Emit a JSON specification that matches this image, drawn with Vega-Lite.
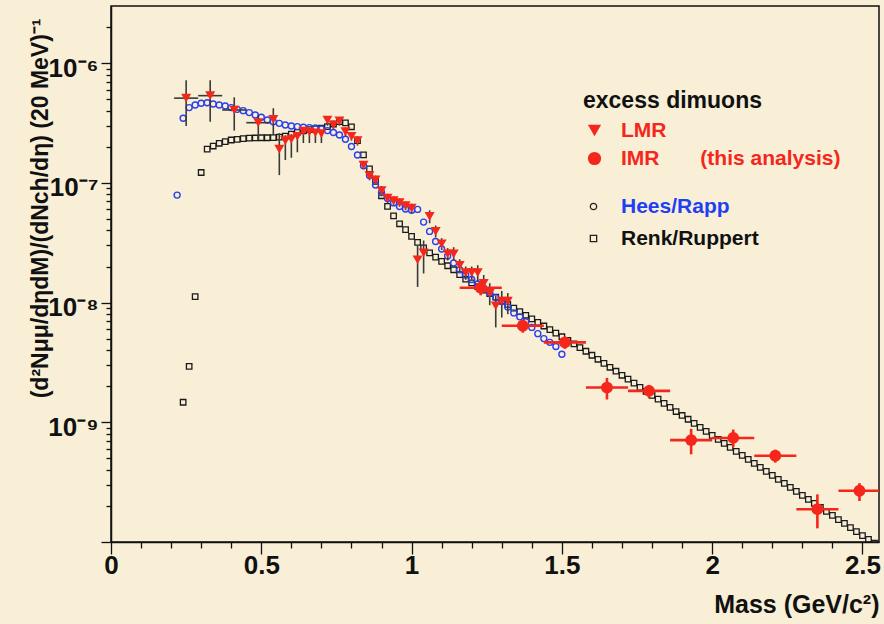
{
  "$schema": "https://vega.github.io/schema/vega-lite/v6.json",
  "width": 768,
  "height": 536,
  "autosize": {"type": "none"},
  "padding": {"left": 111, "top": 6, "right": 5, "bottom": 82},
  "background": "#f8efd6",
  "config": {
    "view": {"stroke": "#111111", "strokeWidth": 1.5, "fill": "#f8efd6"},
    "font": "Liberation Sans"
  },
  "datasets": {
    "lmr": [
      {"m": 0.25, "v": 5.1e-7, "lo": 2.98e-7, "hi": 7.2e-7, "mlo": 0.21, "mhi": 0.29, "series": "LMR"},
      {"m": 0.33, "v": 5.35e-7, "lo": 3.24e-7, "hi": 7.2e-7, "mlo": 0.29, "mhi": 0.37, "series": "LMR"},
      {"m": 0.41, "v": 4.06e-7, "lo": 2.73e-7, "hi": 5.18e-7, "mlo": 0.37, "mhi": 0.45, "series": "LMR"},
      {"m": 0.49, "v": 3.18e-7, "lo": 2.28e-7, "hi": 3.68e-7, "mlo": 0.45, "mhi": 0.53, "series": "LMR"},
      {"m": 0.54, "v": 3.4e-7, "lo": 2.5e-7, "hi": 4.2e-7, "series": "LMR"},
      {"m": 0.56, "v": 1.91e-7, "lo": 1.16e-7, "hi": 2.6e-7, "series": "LMR"},
      {"m": 0.58, "v": 2.25e-7, "lo": 1.55e-7, "hi": 2.5e-7, "series": "LMR"},
      {"m": 0.60, "v": 2.32e-7, "lo": 1.62e-7, "hi": 2.55e-7, "series": "LMR"},
      {"m": 0.62, "v": 2.45e-7, "lo": 1.8e-7, "hi": 2.6e-7, "series": "LMR"},
      {"m": 0.64, "v": 2.7e-7, "lo": 2.15e-7, "hi": 2.9e-7, "series": "LMR"},
      {"m": 0.66, "v": 2.66e-7, "lo": 2.15e-7, "hi": 2.85e-7, "series": "LMR"},
      {"m": 0.68, "v": 2.62e-7, "lo": 2.15e-7, "hi": 2.8e-7, "series": "LMR"},
      {"m": 0.70, "v": 2.58e-7, "lo": 2.15e-7, "hi": 2.75e-7, "series": "LMR"},
      {"m": 0.72, "v": 3.35e-7, "lo": 3.0e-7, "hi": 3.6e-7, "series": "LMR"},
      {"m": 0.74, "v": 3.05e-7, "lo": 2.8e-7, "hi": 3.3e-7, "series": "LMR"},
      {"m": 0.76, "v": 3.3e-7, "lo": 3.0e-7, "hi": 3.5e-7, "series": "LMR"},
      {"m": 0.78, "v": 2.68e-7, "lo": 2.45e-7, "hi": 2.9e-7, "series": "LMR"},
      {"m": 0.80, "v": 2.45e-7, "lo": 2.25e-7, "hi": 2.65e-7, "series": "LMR"},
      {"m": 0.82, "v": 2.25e-7, "lo": 2.05e-7, "hi": 2.45e-7, "series": "LMR"},
      {"m": 0.84, "v": 1.41e-7, "lo": 1.3e-7, "hi": 1.52e-7, "series": "LMR"},
      {"m": 0.86, "v": 1.15e-7, "lo": 1.05e-7, "hi": 1.25e-7, "series": "LMR"},
      {"m": 0.88, "v": 1.06e-7, "lo": 9.7e-8, "hi": 1.15e-7, "series": "LMR"},
      {"m": 0.90, "v": 8.6e-8, "lo": 7.8e-8, "hi": 9.4e-8, "series": "LMR"},
      {"m": 0.92, "v": 7.45e-8, "lo": 6.8e-8, "hi": 8.1e-8, "series": "LMR"},
      {"m": 0.94, "v": 7.1e-8, "lo": 6.5e-8, "hi": 7.7e-8, "series": "LMR"},
      {"m": 0.96, "v": 6.85e-8, "lo": 6.3e-8, "hi": 7.4e-8, "series": "LMR"},
      {"m": 0.98, "v": 6.45e-8, "lo": 5.9e-8, "hi": 7.0e-8, "series": "LMR"},
      {"m": 1.00, "v": 6.15e-8, "lo": 5.6e-8, "hi": 6.7e-8, "series": "LMR"},
      {"m": 1.02, "v": 2.28e-8, "lo": 1.35e-8, "hi": 3.0e-8, "series": "LMR"},
      {"m": 1.04, "v": 2.6e-8, "lo": 1.75e-8, "hi": 3.3e-8, "series": "LMR"},
      {"m": 1.06, "v": 5.25e-8, "lo": 4.6e-8, "hi": 5.9e-8, "series": "LMR"},
      {"m": 1.08, "v": 3.93e-8, "lo": 3.5e-8, "hi": 4.4e-8, "series": "LMR"},
      {"m": 1.10, "v": 3.1e-8, "lo": 2.75e-8, "hi": 3.45e-8, "series": "LMR"},
      {"m": 1.12, "v": 2.55e-8, "lo": 2.25e-8, "hi": 2.85e-8, "series": "LMR"},
      {"m": 1.14, "v": 2.55e-8, "lo": 2.25e-8, "hi": 2.9e-8, "series": "LMR"},
      {"m": 1.16, "v": 2.05e-8, "lo": 1.8e-8, "hi": 2.3e-8, "series": "LMR"},
      {"m": 1.18, "v": 1.78e-8, "lo": 1.55e-8, "hi": 2.0e-8, "series": "LMR"},
      {"m": 1.20, "v": 1.78e-8, "lo": 1.55e-8, "hi": 2.0e-8, "series": "LMR"},
      {"m": 1.22, "v": 1.78e-8, "lo": 1.5e-8, "hi": 2.05e-8, "series": "LMR"},
      {"m": 1.24, "v": 1.45e-8, "lo": 1.2e-8, "hi": 1.7e-8, "series": "LMR"},
      {"m": 1.26, "v": 1.2e-8, "lo": 9.5e-9, "hi": 1.45e-8, "series": "LMR"},
      {"m": 1.28, "v": 9.4e-9, "lo": 6.2e-9, "hi": 1.15e-8, "series": "LMR"},
      {"m": 1.30, "v": 1.03e-8, "lo": 7.5e-9, "hi": 1.25e-8, "series": "LMR"},
      {"m": 1.32, "v": 1.03e-8, "lo": 8.0e-9, "hi": 1.2e-8, "series": "LMR"}
    ],
    "imr": [
      {"m": 1.23, "v": 1.33e-8, "lo": 1.15e-8, "hi": 1.5e-8, "mlo": 1.16, "mhi": 1.30, "series": "IMR"},
      {"m": 1.37, "v": 6.4e-9, "lo": 5.6e-9, "hi": 7.2e-9, "mlo": 1.30, "mhi": 1.44, "series": "IMR"},
      {"m": 1.51, "v": 4.65e-9, "lo": 4.1e-9, "hi": 5.2e-9, "mlo": 1.44, "mhi": 1.58, "series": "IMR"},
      {"m": 1.65, "v": 1.95e-9, "lo": 1.55e-9, "hi": 2.35e-9, "mlo": 1.58, "mhi": 1.72, "series": "IMR"},
      {"m": 1.79, "v": 1.83e-9, "lo": 1.6e-9, "hi": 2.05e-9, "mlo": 1.72, "mhi": 1.86, "series": "IMR"},
      {"m": 1.93, "v": 7.1e-10, "lo": 5.4e-10, "hi": 8.8e-10, "mlo": 1.86, "mhi": 2.00, "series": "IMR"},
      {"m": 2.07, "v": 7.4e-10, "lo": 6.2e-10, "hi": 8.7e-10, "mlo": 2.00, "mhi": 2.14, "series": "IMR"},
      {"m": 2.21, "v": 5.25e-10, "lo": 4.6e-10, "hi": 5.9e-10, "mlo": 2.14, "mhi": 2.28, "series": "IMR"},
      {"m": 2.35, "v": 1.88e-10, "lo": 1.3e-10, "hi": 2.5e-10, "mlo": 2.28, "mhi": 2.42, "series": "IMR"},
      {"m": 2.49, "v": 2.68e-10, "lo": 2.2e-10, "hi": 3.1e-10, "mlo": 2.42, "mhi": 2.56, "series": "IMR"}
    ],
    "hees": [
      {"m": 0.22, "v": 7.9e-8}, {"m": 0.24, "v": 3.46e-7}, {"m": 0.26, "v": 4.25e-7}, {"m": 0.28, "v": 4.47e-7},
      {"m": 0.30, "v": 4.62e-7}, {"m": 0.32, "v": 4.67e-7}, {"m": 0.34, "v": 4.55e-7}, {"m": 0.36, "v": 4.47e-7},
      {"m": 0.38, "v": 4.38e-7}, {"m": 0.40, "v": 4.25e-7}, {"m": 0.42, "v": 4.11e-7}, {"m": 0.44, "v": 4.01e-7},
      {"m": 0.46, "v": 3.86e-7}, {"m": 0.48, "v": 3.69e-7}, {"m": 0.50, "v": 3.53e-7}, {"m": 0.52, "v": 3.35e-7},
      {"m": 0.54, "v": 3.24e-7}, {"m": 0.56, "v": 3.14e-7}, {"m": 0.58, "v": 3.04e-7}, {"m": 0.60, "v": 2.98e-7},
      {"m": 0.62, "v": 2.95e-7}, {"m": 0.64, "v": 2.91e-7}, {"m": 0.66, "v": 2.89e-7}, {"m": 0.68, "v": 2.88e-7},
      {"m": 0.70, "v": 2.82e-7}, {"m": 0.72, "v": 2.73e-7}, {"m": 0.74, "v": 2.63e-7}, {"m": 0.76, "v": 2.51e-7},
      {"m": 0.78, "v": 2.31e-7}, {"m": 0.80, "v": 2.01e-7}, {"m": 0.82, "v": 1.71e-7}, {"m": 0.84, "v": 1.39e-7},
      {"m": 0.86, "v": 1.15e-7}, {"m": 0.88, "v": 9.6e-8}, {"m": 0.90, "v": 8.3e-8}, {"m": 0.92, "v": 7.4e-8},
      {"m": 0.94, "v": 6.8e-8}, {"m": 0.96, "v": 6.35e-8}, {"m": 0.98, "v": 6.05e-8}, {"m": 1.00, "v": 5.9e-8},
      {"m": 1.02, "v": 6.0e-8}, {"m": 1.04, "v": 4.7e-8}, {"m": 1.06, "v": 3.93e-8}, {"m": 1.08, "v": 3.24e-8},
      {"m": 1.10, "v": 2.8e-8}, {"m": 1.12, "v": 2.45e-8}, {"m": 1.14, "v": 2.14e-8}, {"m": 1.16, "v": 1.88e-8},
      {"m": 1.18, "v": 1.7e-8}, {"m": 1.20, "v": 1.56e-8}, {"m": 1.22, "v": 1.43e-8}, {"m": 1.24, "v": 1.32e-8},
      {"m": 1.26, "v": 1.2e-8}, {"m": 1.28, "v": 1.1e-8}, {"m": 1.30, "v": 1.02e-8}, {"m": 1.32, "v": 9.2e-9},
      {"m": 1.34, "v": 8.2e-9}, {"m": 1.36, "v": 7.6e-9}, {"m": 1.38, "v": 6.9e-9}, {"m": 1.40, "v": 6.2e-9},
      {"m": 1.42, "v": 5.5e-9}, {"m": 1.44, "v": 5.0e-9}, {"m": 1.46, "v": 4.65e-9}, {"m": 1.48, "v": 4.3e-9},
      {"m": 1.50, "v": 3.7e-9}
    ],
    "renk": [
      {"m": 0.24, "v": 1.47e-9}, {"m": 0.26, "v": 2.93e-9}, {"m": 0.28, "v": 1.12e-8}, {"m": 0.30, "v": 1.22e-7},
      {"m": 0.32, "v": 1.91e-7}, {"m": 0.34, "v": 2.03e-7}, {"m": 0.36, "v": 2.14e-7}, {"m": 0.38, "v": 2.21e-7},
      {"m": 0.40, "v": 2.28e-7}, {"m": 0.42, "v": 2.31e-7}, {"m": 0.44, "v": 2.34e-7}, {"m": 0.46, "v": 2.36e-7},
      {"m": 0.48, "v": 2.37e-7}, {"m": 0.50, "v": 2.38e-7}, {"m": 0.52, "v": 2.38e-7}, {"m": 0.54, "v": 2.39e-7},
      {"m": 0.56, "v": 2.41e-7}, {"m": 0.58, "v": 2.46e-7}, {"m": 0.60, "v": 2.55e-7}, {"m": 0.62, "v": 2.64e-7},
      {"m": 0.64, "v": 2.72e-7}, {"m": 0.66, "v": 2.78e-7}, {"m": 0.68, "v": 2.82e-7}, {"m": 0.70, "v": 2.86e-7},
      {"m": 0.72, "v": 2.95e-7}, {"m": 0.74, "v": 3.1e-7}, {"m": 0.76, "v": 3.24e-7}, {"m": 0.78, "v": 3.17e-7},
      {"m": 0.80, "v": 2.94e-7}, {"m": 0.82, "v": 2.25e-7}, {"m": 0.84, "v": 1.71e-7}, {"m": 0.86, "v": 1.31e-7},
      {"m": 0.88, "v": 1.03e-7}, {"m": 0.90, "v": 7.8e-8}, {"m": 0.92, "v": 6.35e-8}, {"m": 0.94, "v": 5.3e-8},
      {"m": 0.96, "v": 4.55e-8}, {"m": 0.98, "v": 4.06e-8}, {"m": 1.00, "v": 3.57e-8}, {"m": 1.02, "v": 3.18e-8},
      {"m": 1.04, "v": 2.86e-8}, {"m": 1.06, "v": 2.6e-8}, {"m": 1.08, "v": 2.4e-8}, {"m": 1.10, "v": 2.21e-8},
      {"m": 1.12, "v": 2.03e-8}, {"m": 1.14, "v": 1.88e-8}, {"m": 1.16, "v": 1.71e-8}, {"m": 1.18, "v": 1.57e-8},
      {"m": 1.20, "v": 1.46e-8}, {"m": 1.22, "v": 1.36e-8}, {"m": 1.24, "v": 1.27e-8}, {"m": 1.26, "v": 1.19e-8},
      {"m": 1.28, "v": 1.11e-8}, {"m": 1.30, "v": 1.03e-8}, {"m": 1.32, "v": 9.64e-9}, {"m": 1.34, "v": 9.0e-9},
      {"m": 1.36, "v": 8.4e-9}, {"m": 1.38, "v": 7.83e-9}, {"m": 1.40, "v": 7.31e-9}, {"m": 1.42, "v": 6.82e-9},
      {"m": 1.44, "v": 6.37e-9}, {"m": 1.46, "v": 5.94e-9}, {"m": 1.48, "v": 5.55e-9}, {"m": 1.50, "v": 5.18e-9},
      {"m": 1.52, "v": 4.83e-9}, {"m": 1.54, "v": 4.51e-9}, {"m": 1.56, "v": 4.21e-9}, {"m": 1.58, "v": 3.92e-9},
      {"m": 1.60, "v": 3.63e-9}, {"m": 1.62, "v": 3.36e-9}, {"m": 1.64, "v": 3.11e-9}, {"m": 1.66, "v": 2.88e-9},
      {"m": 1.68, "v": 2.67e-9}, {"m": 1.70, "v": 2.47e-9}, {"m": 1.72, "v": 2.29e-9}, {"m": 1.74, "v": 2.12e-9},
      {"m": 1.76, "v": 1.96e-9}, {"m": 1.78, "v": 1.81e-9}, {"m": 1.80, "v": 1.68e-9}, {"m": 1.82, "v": 1.56e-9},
      {"m": 1.84, "v": 1.44e-9}, {"m": 1.86, "v": 1.33e-9}, {"m": 1.88, "v": 1.23e-9}, {"m": 1.90, "v": 1.14e-9},
      {"m": 1.92, "v": 1.06e-9}, {"m": 1.94, "v": 9.8e-10}, {"m": 1.96, "v": 9.07e-10}, {"m": 1.98, "v": 8.4e-10},
      {"m": 2.00, "v": 7.78e-10}, {"m": 2.02, "v": 7.2e-10}, {"m": 2.04, "v": 6.67e-10}, {"m": 2.06, "v": 6.17e-10},
      {"m": 2.08, "v": 5.71e-10}, {"m": 2.10, "v": 5.29e-10}, {"m": 2.12, "v": 4.9e-10}, {"m": 2.14, "v": 4.54e-10},
      {"m": 2.16, "v": 4.2e-10}, {"m": 2.18, "v": 3.89e-10}, {"m": 2.20, "v": 3.6e-10}, {"m": 2.22, "v": 3.33e-10},
      {"m": 2.24, "v": 3.09e-10}, {"m": 2.26, "v": 2.86e-10}, {"m": 2.28, "v": 2.65e-10}, {"m": 2.30, "v": 2.45e-10},
      {"m": 2.32, "v": 2.27e-10}, {"m": 2.34, "v": 2.1e-10}, {"m": 2.36, "v": 1.95e-10}, {"m": 2.38, "v": 1.8e-10},
      {"m": 2.40, "v": 1.67e-10}, {"m": 2.42, "v": 1.54e-10}, {"m": 2.44, "v": 1.43e-10}, {"m": 2.46, "v": 1.32e-10},
      {"m": 2.48, "v": 1.22e-10}, {"m": 2.50, "v": 1.13e-10}, {"m": 2.52, "v": 1.05e-10}, {"m": 2.54, "v": 9.8e-11}
    ]
  },
  "resolve": {
    "scale": {"shape": "independent"},
    "legend": {"shape": "independent"},
    "axis": {"x": "independent"}
  },
  "layer": [
    {
      "data": {"name": "renk"},
      "transform": [{"calculate": "'Renk/Ruppert'", "as": "model"}],
      "mark": {"type": "point", "filled": false, "stroke": "#1a1a1a", "strokeWidth": 1.3, "size": 30, "opacity": 1, "clip": true},
      "encoding": {
        "x": {
          "field": "m", "type": "quantitative",
          "scale": {"domain": [0, 2.555], "nice": false, "zero": false},
          "axis": {
            "orient": "bottom",
            "values": [0, 0.5, 1, 1.5, 2, 2.5],
            "format": "~g",
            "tickSize": 12,
            "labelFont": "Liberation Sans", "labelFontSize": 26, "labelFontWeight": "bold", "labelColor": "#111111",
            "labelPadding": -2, "labelFlush": false, "labelOverlap": false, "labelBound": false,
            "domainColor": "#111111", "domainWidth": 1.5, "tickColor": "#111111", "tickWidth": 1.3, "grid": false,
            "title": "Mass (GeV/c²)", "titleFont": "Liberation Sans", "titleFontSize": 25, "titleFontWeight": "bold", "titleColor": "#111111",
            "titleAlign": "right", "titleBaseline": "middle", "titleX": 768, "titleY": 62
          }
        },
        "y": {
          "field": "v", "type": "quantitative",
          "scale": {"type": "log", "domain": [1e-10, 3e-6], "nice": false},
          "axis": {
            "values": [1e-10, 2e-10, 3e-10, 4e-10, 5e-10, 6e-10, 7e-10, 8e-10, 9e-10, 1e-9, 2e-9, 3e-9, 4e-9, 5e-9, 6e-9, 7e-9, 8e-9, 9e-9, 1e-8, 2e-8, 3e-8, 4e-8, 5e-8, 6e-8, 7e-8, 8e-8, 9e-8, 1e-7, 2e-7, 3e-7, 4e-7, 5e-7, 6e-7, 7e-7, 8e-7, 9e-7, 1e-6, 2e-6],
            "labelExpr": "datum.value == 1e-6 ? '10⁻⁶' : datum.value == 1e-7 ? '10⁻⁷' : datum.value == 1e-8 ? '10⁻⁸' : datum.value == 1e-9 ? '10⁻⁹' : ''",
            "tickSize": {"condition": {"test": "datum.value == 1e-6 || datum.value == 1e-7 || datum.value == 1e-8 || datum.value == 1e-9 || datum.value == 1e-10", "value": 10}, "value": 5},
            "labelFont": "Liberation Sans", "labelFontSize": 26, "labelFontWeight": "bold", "labelColor": "#111111",
            "labelPadding": 3, "labelOffset": 5, "labelFlush": false, "labelOverlap": false, "labelBound": false,
            "domainColor": "#111111", "domainWidth": 1.5, "tickColor": "#111111", "tickWidth": 1.3, "grid": false,
            "title": "(d²Nμμ/dηdM)/(dNch/dη) (20 MeV)⁻¹", "titleFont": "Liberation Sans", "titleFontSize": 23, "titleFontWeight": "bold", "titleColor": "#111111",
            "titleAngle": 270, "titleAlign": "right", "titleBaseline": "middle", "titleX": -71, "titleY": 12
          }
        },
        "shape": {
          "field": "model", "type": "nominal",
          "scale": {"domain": ["Renk/Ruppert"], "range": ["square"]},
          "legend": {
            "orient": "none", "legendX": 472, "legendY": 222, "title": null, "padding": 0,
            "labelFont": "Liberation Sans", "labelFontSize": 21, "labelFontWeight": "bold", "labelLimit": 400, "labelColor": "#111111",
            "symbolSize": 40, "symbolStrokeWidth": 1.3, "labelOffset": 17,
            "symbolFillColor": "transparent", "symbolStrokeColor": "#222222"
          }
        }
      }
    },
    {
      "data": {"name": "hees"},
      "transform": [{"calculate": "'Hees/Rapp'", "as": "model"}],
      "mark": {"type": "point", "filled": false, "stroke": "#2a3ff0", "strokeWidth": 1.4, "size": 36, "opacity": 1, "clip": true},
      "encoding": {
        "x": {
          "field": "m", "type": "quantitative",
          "axis": {
            "orient": "bottom",
            "values": [0.1, 0.2, 0.3, 0.4, 0.6, 0.7, 0.8, 0.9, 1.1, 1.2, 1.3, 1.4, 1.6, 1.7, 1.8, 1.9, 2.1, 2.2, 2.3, 2.4],
            "labels": false, "title": null, "domain": false, "grid": false,
            "tickSize": 6, "tickColor": "#111111", "tickWidth": 1.3
          }
        },
        "y": {"field": "v", "type": "quantitative"},
        "shape": {
          "field": "model", "type": "nominal",
          "scale": {"domain": ["Hees/Rapp"], "range": ["circle"]},
          "legend": {
            "orient": "none", "legendX": 472, "legendY": 190, "title": null, "padding": 0,
            "labelFont": "Liberation Sans", "labelFontSize": 21, "labelFontWeight": "bold", "labelLimit": 400, "labelColor": "#1f3ff2",
            "symbolSize": 40, "symbolStrokeWidth": 1.3, "labelOffset": 17,
            "symbolFillColor": "transparent", "symbolStrokeColor": "#222222"
          }
        }
      }
    },
    {
      "layer": [
        {
          "data": {"name": "lmr"},
          "mark": {"type": "rule", "color": "#3a3a3a", "strokeWidth": 1.6, "clip": true},
          "encoding": {
            "x": {"field": "m", "type": "quantitative", "axis": null},
            "y": {"field": "lo", "type": "quantitative"},
            "y2": {"field": "hi"}
          }
        },
        {
          "data": {"name": "lmr"},
          "transform": [{"filter": "isValid(datum.mlo)"}],
          "mark": {"type": "rule", "color": "#3a3a3a", "strokeWidth": 1.6, "clip": true},
          "encoding": {
            "x": {"field": "mlo", "type": "quantitative", "axis": null},
            "x2": {"field": "mhi"},
            "y": {"field": "v", "type": "quantitative"}
          }
        },
        {
          "data": {"name": "lmr"},
          "mark": {"type": "point", "filled": true, "color": "#f5261b", "size": 100, "opacity": 1, "clip": true},
          "encoding": {
            "x": {"field": "m", "type": "quantitative", "axis": null},
            "y": {"field": "v", "type": "quantitative"},
            "shape": {
              "field": "series", "type": "nominal",
              "scale": {"domain": ["LMR", "IMR"], "range": ["triangle-down", "circle"]},
              "legend": {
                "orient": "none", "legendX": 472, "legendY": 84, "title": "excess dimuons", "padding": 0,
                "titleFont": "Liberation Sans", "titleFontSize": 23, "titleFontWeight": "bold", "titleColor": "#111111", "titlePadding": 7,
                "labelFont": "Liberation Sans", "labelFontSize": 21, "labelFontWeight": "bold", "labelColor": "#f5261b", "labelLimit": 400,
                "labelExpr": "datum.label == 'IMR' ? 'IMR\u00a0\u00a0\u00a0\u00a0\u00a0\u00a0\u00a0(this analysis)' : datum.label",
                "rowPadding": 6, "labelOffset": 16, "symbolOffset": 1, "symbolSize": 175,
                "symbolFillColor": "#f5261b", "symbolStrokeColor": "#f5261b"
              }
            }
          }
        },
        {
          "data": {"name": "imr"},
          "mark": {"type": "rule", "color": "#f5261b", "strokeWidth": 2.6, "clip": true},
          "encoding": {
            "x": {"field": "m", "type": "quantitative", "axis": null},
            "y": {"field": "lo", "type": "quantitative"},
            "y2": {"field": "hi"}
          }
        },
        {
          "data": {"name": "imr"},
          "mark": {"type": "rule", "color": "#f5261b", "strokeWidth": 2.6, "clip": true},
          "encoding": {
            "x": {"field": "mlo", "type": "quantitative", "axis": null},
            "x2": {"field": "mhi"},
            "y": {"field": "v", "type": "quantitative"}
          }
        },
        {
          "data": {"name": "imr"},
          "mark": {"type": "point", "filled": true, "color": "#f5261b", "size": 140, "opacity": 1, "clip": true},
          "encoding": {
            "x": {"field": "m", "type": "quantitative", "axis": null},
            "y": {"field": "v", "type": "quantitative"},
            "shape": {"field": "series", "type": "nominal"}
          }
        }
      ]
    }
  ]
}
